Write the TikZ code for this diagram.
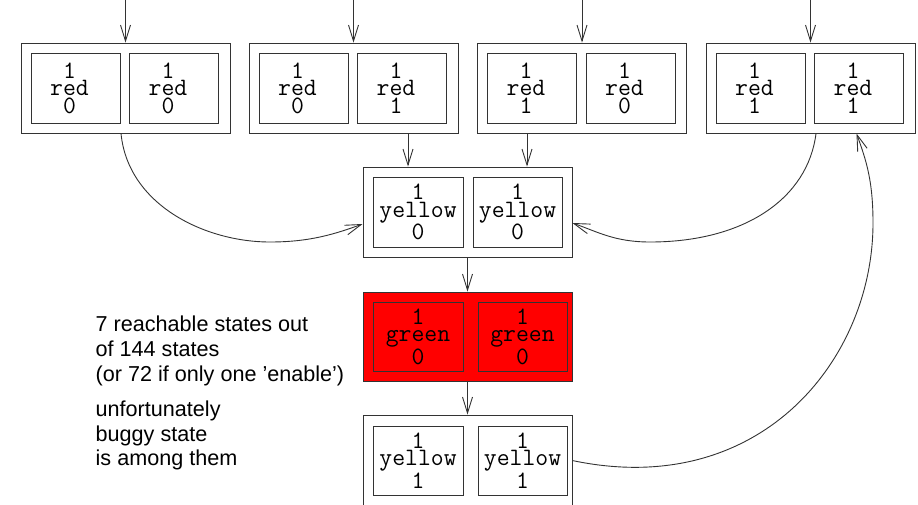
\documentclass[tikz,border=0pt]{standalone}
\usepackage{fontspec}
\newfontfamily\labelfont{Liberation Sans}
\usetikzlibrary{arrows.meta,calc}
\begin{document}
\begin{tikzpicture}[x=1pt,y=-1pt,
  ln/.style={draw=black!80, line width=0.9pt},
  outerbox/.style={ln, minimum width=209pt, minimum height=90pt, inner sep=0pt},
  cell/.style={ln, minimum width=89pt, minimum height=70pt, inner sep=0pt},
  val/.style={font=\fontsize{25}{17.5}\selectfont\ttfamily, align=center, inner sep=0pt},
  hot/.style={fill=red},
  arr/.style={ln, -{Straight Barb[length=16pt,width=10pt]}},
  note/.style={font=\fontsize{21.6}{24.7}\selectfont\labelfont, align=left, inner sep=0pt, anchor=north west}]
\useasboundingbox (0,0) rectangle (918,504);
\clip (0,0) rectangle (918,504);

% top row
\node[outerbox] (b1) at (125.5,88) {};
\node[cell] (c1a) at (75.5,88) {};
\node[cell] (c1b) at (174,88) {};
\node[val] (v1a) at ($(c1a)+(-6,0)$) {1\\red\\0};
\node[val] (v1b) at ($(c1b)+(-6,0)$) {1\\red\\0};

\node[outerbox] (b2) at (353.5,88) {};
\node[cell] (c2a) at (303.5,88) {};
\node[cell] (c2b) at (402,88) {};
\node[val] (v2a) at ($(c2a)+(-6,0)$) {1\\red\\0};
\node[val] (v2b) at ($(c2b)+(-6,0)$) {1\\red\\1};

\node[outerbox] (b3) at (582,88) {};
\node[cell] (c3a) at (532,88) {};
\node[cell] (c3b) at (630.5,88) {};
\node[val] (v3a) at ($(c3a)+(-6,0)$) {1\\red\\1};
\node[val] (v3b) at ($(c3b)+(-6,0)$) {1\\red\\0};

\node[outerbox] (b4) at (810.5,88) {};
\node[cell] (c4a) at (760.5,88) {};
\node[cell] (c4b) at (859,88) {};
\node[val] (v4a) at ($(c4a)+(-6,0)$) {1\\red\\1};
\node[val] (v4b) at ($(c4b)+(-6,0)$) {1\\red\\1};

% middle column
\node[outerbox] (yl) at (467.5,212) {};
\node[cell, minimum width=90pt] (cya) at (418,212) {};
\node[cell] (cyb) at (517.5,212) {};
\node[val] (vya) at (cya) {1\\yellow\\0};
\node[val] (vyb) at (cyb) {1\\yellow\\0};

\node[outerbox, hot, minimum height=89pt] (gr) at (467.5,336.5) {};
\node[cell, hot, minimum width=90pt, minimum height=69pt] (cga) at (418,336.5) {};
\node[cell, hot, minimum height=69pt] (cgb) at (522.5,336.5) {};
\node[val] (vga) at (cga) {1\\green\\0};
\node[val] (vgb) at (cgb) {1\\green\\0};

\node[outerbox, minimum height=100pt] (bb) at (467.5,465) {};
\node[cell, minimum width=90pt, minimum height=69pt] (cba) at (418,460.5) {};
\node[cell, minimum height=69pt] (cbb) at (522.5,460.5) {};
\node[val] (vba) at (cba) {1\\yellow\\1};
\node[val] (vbb) at (cbb) {1\\yellow\\1};

% incoming arrows at the top
\coordinate (i1) at (125.5,0);
\coordinate (i2) at (353.5,0);
\coordinate (i3) at (582,0);
\coordinate (i4) at (810.5,0);
\draw[arr] (i1) -- (b1.north);
\draw[arr] (i2) -- (b2.north);
\draw[arr] (i3) -- (b3.north);
\draw[arr] (i4) -- (b4.north);

% straight transitions
\draw[arr] ([xshift=54.5pt]b2.south) -- ([xshift=54.5pt]b2.south |- yl.north);
\draw[arr] ([xshift=-55pt]b3.south) -- ([xshift=-55pt]b3.south |- yl.north);
\draw[arr] (yl.south) -- (gr.north);
\draw[arr] (gr.south) -- (bb.north);

% curved transitions
\draw[arr] ([xshift=-4.5pt]b1.south) .. controls (128,205) and (205,242) .. (270,242)
  .. controls (310,242) and (335,234) .. ([yshift=-12pt]yl.west);
\draw[arr] ([xshift=5.5pt]b4.south) .. controls (808,198) and (745,242) .. (650,242)
  .. controls (615,242) and (598,232) .. ([yshift=-11pt]yl.east);
\draw[arr] ([yshift=-46pt]bb.north east) .. controls (760,500) and (873,360) .. (873,223)
  .. controls (873,180) and (866,160) .. ([xshift=46pt]b4.south);

% notes
\node[note] (n1) at (95.5,316) {7 reachable states out\\of 144 states\\(or 72 if only one ’enable’)};
\node[note] (n2) at (95.5,400.5) {unfortunately\\buggy state\\is among them};
\end{tikzpicture}
\end{document}
